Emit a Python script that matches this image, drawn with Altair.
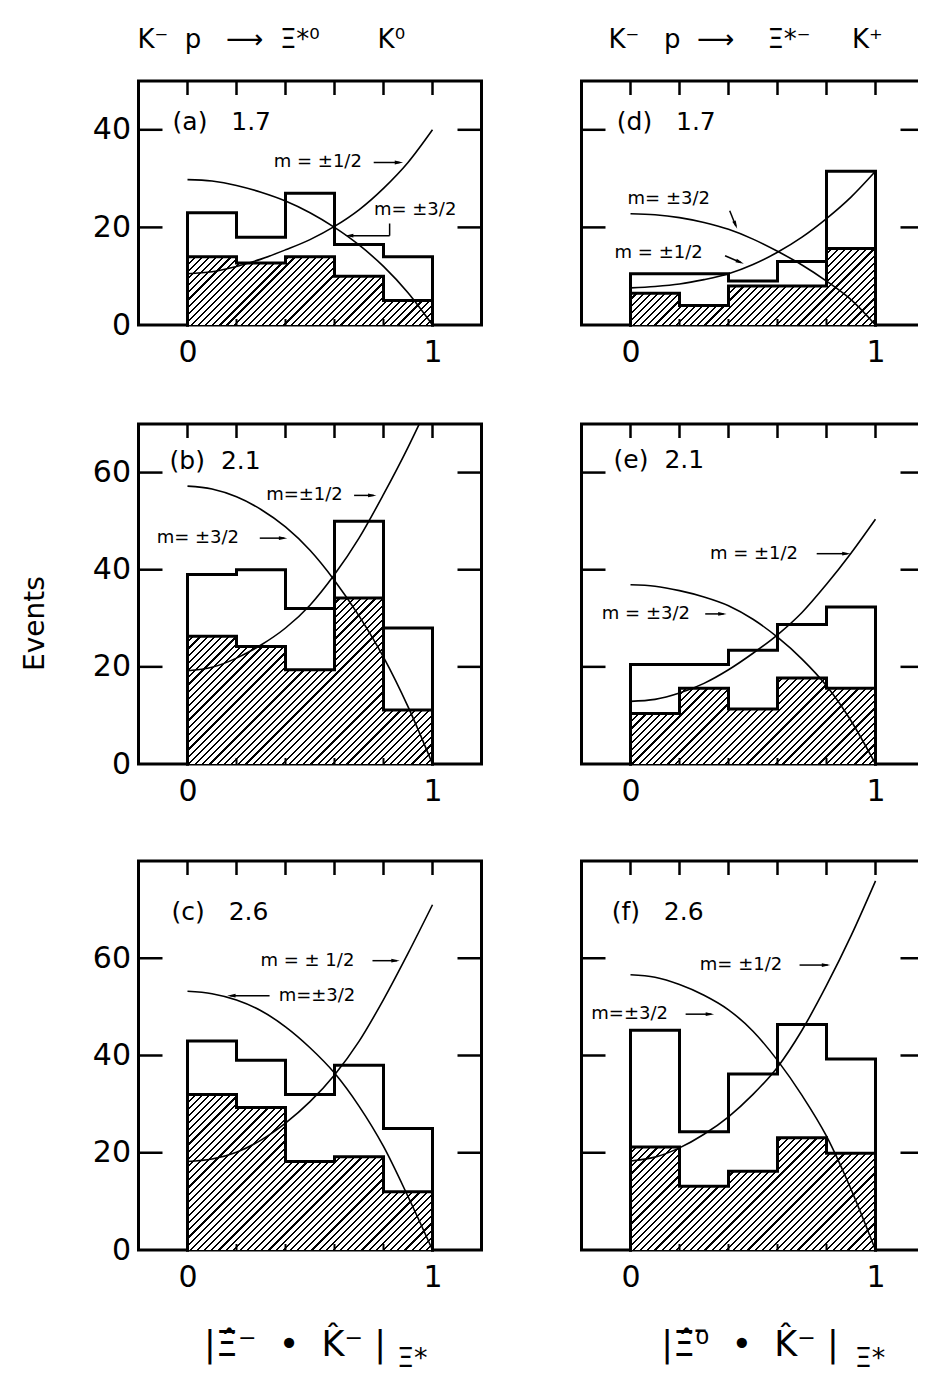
import altair as alt
import pandas as pd

FONT = "DejaVu Sans"
NB = "\u00a0"

# ---------------- data ----------------
BIN_LEFT = [0.0, 0.2, 0.4, 0.6, 0.8]
TOP_TICKS = [0.0, 0.2, 0.4, 0.6, 0.8, 1.0]
BOTTOM_TICKS = [0.2, 0.4, 0.6, 0.8]
CURVE_X = [0.0, 0.1, 0.2, 0.3, 0.4, 0.5, 0.6, 0.7, 0.8, 0.9, 1.0]

YMAX = {"a": 50, "d": 50, "b": 70, "e": 70, "c": 80, "f": 80}
YTICKS = {"a": [0, 20, 40], "d": [20, 40], "b": [0, 20, 40, 60],
          "e": [20, 40, 60], "c": [0, 20, 40, 60], "f": [20, 40, 60]}

# open (all events) histograms
open_a = [23, 18, 27, 16.5, 14]
open_b = [39, 40, 32, 50, 28]
open_c = [43, 39, 32, 38, 25]
open_d = [10.5, 10.5, 9, 13, 31.5]
open_e = [20.5, 20.5, 23.4, 28.7, 32.3]
open_f = [45.2, 24.3, 36.2, 46.4, 39.3]

# hatched histograms
hatch_a = [14, 12.7, 14, 10, 5]
hatch_b = [26.3, 24.2, 19.4, 34.2, 11.1]
hatch_c = [32, 29.3, 18.2, 19.2, 12]
hatch_d = [6.5, 4, 8, 8, 15.7]
hatch_e = [10.4, 15.6, 11.3, 17.7, 15.6]
hatch_f = [21.2, 13.1, 16.2, 23.1, 19.9]

# curves m = ±3/2 and m = ±1/2 (read at CURVE_X)
m32_a = [29.8, 29.5, 28.6, 27.2, 25.4, 23.0, 20.0, 16.4, 12.0, 6.6, 0]
m12_a = [10.5, 10.9, 12.0, 13.5, 15.4, 17.5, 20.2, 23.6, 28.0, 33.3, 40.0]
m32_b = [57.2, 56.6, 55.0, 52.4, 48.8, 44.0, 37.8, 30.5, 22.0, 11.8, 0]
m12_b_x = [0.0, 0.1, 0.2, 0.3, 0.4, 0.5, 0.6, 0.7, 0.8, 0.9, 0.946]
m12_b = [19.2, 19.9, 21.8, 24.5, 28.0, 32.7, 39.0, 46.5, 55.5, 65.2, 70.0]
m32_c = [53.2, 52.7, 51.4, 49.2, 45.9, 41.6, 36.4, 29.6, 21.3, 11.0, 0]
m12_c = [18.2, 18.7, 20.1, 22.6, 26.1, 30.5, 36.0, 42.9, 51.5, 61.0, 71.0]
m32_d = [22.8, 22.6, 22.0, 21.0, 19.6, 17.6, 15.1, 12.3, 9.0, 5.2, 0]
m12_d = [7.6, 7.9, 8.4, 9.3, 10.5, 12.4, 14.9, 18.0, 21.8, 26.2, 31.5]
m32_e = [36.9, 36.6, 35.7, 34.4, 32.6, 29.8, 26.1, 21.6, 16.1, 8.9, 0]
m12_e = [12.9, 13.3, 14.6, 16.6, 19.4, 22.8, 26.6, 31.2, 37.0, 43.4, 50.4]
m32_f = [56.6, 56.1, 54.6, 52.4, 49.4, 45.0, 39.0, 31.8, 23.4, 12.5, 0]
m12_f = [18.3, 19.1, 21.0, 23.8, 27.4, 32.0, 37.6, 45.2, 54.4, 64.6, 75.9]

PANEL_LABEL = {"a": "(a)" + NB + NB + " 1.7", "b": "(b)" + NB + " 2.1",
               "c": "(c)" + NB + NB + " 2.6", "d": "(d)" + NB + NB + " 1.7",
               "e": "(e)" + NB + " 2.1", "f": "(f)" + NB + NB + " 2.6"}
PANEL_LABEL_POS = {"a": (-0.061, 41.5), "b": (-0.073, 62.3), "c": (-0.065, 69.5),
                   "d": (-0.056, 41.7), "e": (-0.069, 62.5), "f": (-0.077, 69.5)}

# annotation texts: (text, x, y) in data units
NOTES = {
    "a": [("m = ±1/2", 0.352, 33.3), ("m= ±3/2", 0.761, 23.6)],
    "b": [("m=±1/2", 0.321, 55.3), ("m= ±3/2", -0.126, 46.5)],
    "c": [("m = ± 1/2", 0.298, 59.5), ("m=±3/2", 0.372, 52.3)],
    "d": [("m= ±3/2", -0.012, 25.8), ("m = ±1/2", -0.065, 14.8)],
    "e": [("m = ±1/2", 0.324, 43.3), ("m = ±3/2", -0.117, 30.9)],
    "f": [("m= ±1/2", 0.283, 58.6), ("m=±3/2", -0.16, 48.5)],
}
# arrow shafts (x, y, x2, y2) and heads (x, y, angle)
SHAFTS = {
    "a": [(0.760, 33.3, 0.865, 33.3), (0.825, 20.8, 0.825, 18.3), (0.825, 18.3, 0.665, 18.3)],
    "b": [(0.680, 55.3, 0.760, 55.3), (0.295, 46.5, 0.395, 46.5)],
    "c": [(0.755, 59.5, 0.855, 59.5), (0.335, 52.3, 0.175, 52.3)],
    "d": [(0.405, 23.4, 0.430, 20.3), (0.386, 14.2, 0.450, 12.8)],
    "e": [(0.760, 43.3, 0.885, 43.3), (0.305, 30.9, 0.380, 30.9)],
    "f": [(0.690, 58.6, 0.805, 58.6), (0.225, 48.5, 0.330, 48.5)],
}
HEADS = {
    "a": [(0.863, 33.3, 0), (0.660, 18.3, 180)],
    "b": [(0.754, 55.3, 0), (0.390, 46.5, 0)],
    "c": [(0.849, 59.5, 0), (0.179, 52.3, 180)],
    "d": [(0.429, 20.5, 67.6), (0.447, 12.9, 22.5)],
    "e": [(0.881, 43.3, 0), (0.375, 30.9, 0)],
    "f": [(0.798, 58.6, 0), (0.324, 48.5, 0)],
}

TITLES = {"a": "K⁻" + NB + " p" + NB + NB + " ⟶" + NB + " Ξ*⁰" + NB * 6 + " K⁰",
          "d": "K⁻" + NB + NB + " p" + NB + " ⟶" + NB * 3 + " Ξ*⁻" + NB * 4 + " K⁺"}
TITLE_DX = {"a": -1, "d": 27}
XTITLES = {"c": "|Ξ̂⁻" + NB + " •" + NB + " K̂⁻" + NB + "|",
           "f": "|Ξ̂⁰̄" + NB + " •" + NB + " K̂⁻" + NB + "|"}
XTITLE_X = {"c": 156, "f": 168}
SUBSCRIPT = {"c": ("Ξ*", 0.855, -24.0), "f": ("Ξ*", 0.915, -24.0)}

OPEN = {"a": open_a, "b": open_b, "c": open_c, "d": open_d, "e": open_e, "f": open_f}
HATCH = {"a": hatch_a, "b": hatch_b, "c": hatch_c, "d": hatch_d, "e": hatch_e, "f": hatch_f}
CURVES = {
    "a": [(CURVE_X, m32_a), (CURVE_X, m12_a)],
    "b": [(CURVE_X, m32_b), (m12_b_x, m12_b)],
    "c": [(CURVE_X, m32_c), (CURVE_X, m12_c)],
    "d": [(CURVE_X, m32_d), (CURVE_X, m12_d)],
    "e": [(CURVE_X, m32_e), (CURVE_X, m12_e)],
    "f": [(CURVE_X, m32_f), (CURVE_X, m12_f)],
}

# ---------------- layout / style ----------------
W = 343
HEIGHTS = {"a": 244, "d": 244, "b": 340, "e": 340, "c": 389, "f": 389}
HEAD_SHAPE = "M-1,-0.45L1,0L-1,0.45Z"


def step_outline(vals):
    xs = [0.0] + BIN_LEFT + [1.0, 1.0]
    ys = [0.0] + list(vals) + [vals[-1], 0.0]
    return pd.DataFrame({"x": xs, "y": ys, "i": list(range(len(xs)))})


def hatch_fill(vals, ymax, height, spacing=7.2, frac=0.3):
    wb = W / 1.4
    hb = max(vals) / ymax * height
    a = wb * (wb + hb) / (wb ** 2 + hb ** 2)
    b = hb * (wb + hb) / (wb ** 2 + hb ** 2)
    n = max(1, int(round((wb + hb) / spacing)))
    stops = []
    for k in range(n):
        o0 = round(k / n, 6)
        o1 = round((k + frac) / n, 6)
        o2 = round((k + 1) / n, 6)
        stops += [{"offset": o0, "color": "#000000"}, {"offset": o1, "color": "#000000"},
                  {"offset": o1, "color": "#ffffff"}, {"offset": o2, "color": "#ffffff"}]
    return {"gradient": "linear", "x1": 0, "y1": 0,
            "x2": round(a, 6), "y2": round(b, 6), "stops": stops}


def make_panel(pid, left):
    h = HEIGHTS[pid]
    ymax = YMAX[pid]
    xscale = alt.Scale(domain=[-0.2, 1.2], nice=False, zero=False)
    yscale = alt.Scale(domain=[0, ymax], nice=False, zero=False)
    bottom = pid in XTITLES

    if left:
        ykw = dict(values=YTICKS[pid], format="d", labelFontSize=30, labelFont=FONT,
                   labelPadding=8, labelColor="black", ticks=False, tickSize=0,
                   domain=False, grid=False, title="Events", titleFont=FONT,
                   titleFontSize=28, titleFontWeight="normal", titleColor="black",
                   titlePadding=43, titleOpacity=1 if pid == "b" else 0)
        if pid == "b":
            ykw["titleY"] = 199
        yaxis = alt.Axis(**ykw)
    else:
        yaxis = None

    xkw = dict(values=[0, 1], format="d", labelFontSize=30, labelFont=FONT,
               labelPadding=12, labelColor="black", ticks=False, tickSize=0,
               domain=False, grid=False)
    if bottom:
        xkw.update(title=XTITLES[pid], titleFont=FONT, titleFontSize=35,
                   titleFontWeight="normal", titleColor="black",
                   titleX=XTITLE_X[pid], titleY=105, titleAlign="center",
                   titleBaseline="alphabetic")
    else:
        xkw.update(title=None)
    xaxis = alt.Axis(**xkw)

    def X(f):
        return alt.X(f"{f}:Q", scale=xscale, axis=xaxis)

    def Y(f):
        return alt.Y(f"{f}:Q", scale=yscale, axis=yaxis)

    hv = HATCH[pid]
    area_df = pd.DataFrame({"x": BIN_LEFT + [1.0], "y": list(hv) + [hv[-1]]})
    layers = []
    layers.append(alt.Chart(area_df).mark_area(
        interpolate="step-after", fill=hatch_fill(hv, ymax, h), opacity=1
    ).encode(x=X("x"), y=Y("y")))

    for vals in (hv, OPEN[pid]):
        layers.append(alt.Chart(step_outline(vals)).mark_line(
            interpolate="step-after", color="black", strokeWidth=3,
            strokeJoin="miter", strokeCap="square"
        ).encode(x=X("x"), y=Y("y"), order=alt.Order("i:Q")))

    rows = []
    for k, (cx, cy) in enumerate(CURVES[pid]):
        for j, (xx, yy) in enumerate(zip(cx, cy)):
            rows.append({"x": xx, "y": yy, "m": k, "i": j})
    layers.append(alt.Chart(pd.DataFrame(rows)).mark_line(
        color="black", strokeWidth=1.6, interpolate="monotone"
    ).encode(x=X("x"), y=Y("y"), detail="m:N", order=alt.Order("i:Q")))

    # inward ticks
    yt = pd.DataFrame({"v": [v for v in YTICKS[pid] if v > 0]})
    layers.append(alt.Chart(yt).mark_rule(color="black", strokeWidth=2.5).encode(
        y=Y("v"), x=alt.value(0), x2=alt.value(24)))
    layers.append(alt.Chart(yt).mark_rule(color="black", strokeWidth=2.5).encode(
        y=Y("v"), x=alt.value(W), x2=alt.value(W - 24)))
    layers.append(alt.Chart(pd.DataFrame({"v": TOP_TICKS})).mark_rule(
        color="black", strokeWidth=2.5).encode(x=X("v"), y=alt.value(0), y2=alt.value(14)))
    layers.append(alt.Chart(pd.DataFrame({"v": BOTTOM_TICKS})).mark_rule(
        color="black", strokeWidth=2).encode(x=X("v"), y=alt.value(h), y2=alt.value(h - 6)))

    # arrows
    sh = pd.DataFrame(SHAFTS[pid], columns=["x", "y", "x2", "y2"])
    layers.append(alt.Chart(sh).mark_rule(color="black", strokeWidth=1.5).encode(
        x=X("x"), y=Y("y"), x2="x2:Q", y2="y2:Q"))
    hd = pd.DataFrame(HEADS[pid], columns=["x", "y", "ang"])
    layers.append(alt.Chart(hd).mark_point(
        shape=HEAD_SHAPE, filled=True, color="black", size=70, opacity=1
    ).encode(x=X("x"), y=Y("y"), angle=alt.Angle("ang:Q", scale=None)))

    # texts
    lx, ly = PANEL_LABEL_POS[pid]
    layers.append(alt.Chart(pd.DataFrame({"x": [lx], "y": [ly], "t": [PANEL_LABEL[pid]]})).mark_text(
        font=FONT, fontSize=25, align="left", baseline="middle", color="black"
    ).encode(x=X("x"), y=Y("y"), text="t:N"))
    nd = pd.DataFrame(NOTES[pid], columns=["t", "x", "y"])
    layers.append(alt.Chart(nd).mark_text(
        font=FONT, fontSize=18, align="left", baseline="middle", color="black"
    ).encode(x=X("x"), y=Y("y"), text="t:N"))
    if bottom:
        st, sx, sy = SUBSCRIPT[pid]
        layers.append(alt.Chart(pd.DataFrame({"x": [sx], "y": [sy], "t": [st]})).mark_text(
            font=FONT, fontSize=27, align="left", baseline="alphabetic", color="black"
        ).encode(x=X("x"), y=Y("y"), text="t:N"))

    props = dict(width=W, height=h)
    if pid in TITLES:
        props["title"] = alt.TitleParams(
            text=TITLES[pid], anchor="start", frame="group", font=FONT, fontSize=26,
            fontWeight="normal", color="black", baseline="alphabetic",
            offset=6, dx=TITLE_DX[pid])
    return alt.layer(*layers).properties(**props)


row1 = alt.hconcat(make_panel("a", True), make_panel("d", False), spacing=94)
row2 = alt.hconcat(make_panel("b", True), make_panel("e", False), spacing=94)
row3 = alt.hconcat(make_panel("c", True), make_panel("f", False), spacing=94)

chart = alt.vconcat(row1, row2, row3, spacing=50).properties(
    padding={"left": 11.5, "top": 17, "right": -10, "bottom": 0},
    background="white",
).configure_view(stroke="black", strokeWidth=3)

chart.save("out.html", embed_options={"renderer": "svg", "actions": False})
